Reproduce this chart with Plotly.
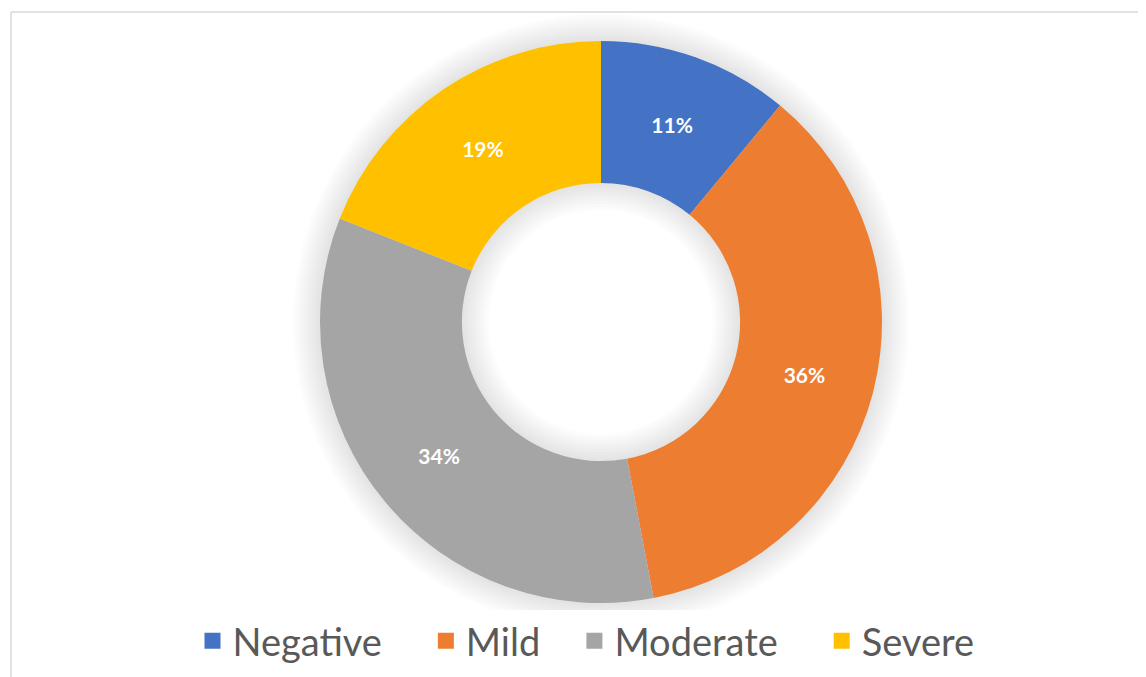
import plotly.graph_objects as go

# ---- data ----
labels = ["Negative", "Mild", "Moderate", "Severe"]
values = [11, 36, 34, 19]
colors = ["#4472C4", "#ED7D31", "#A5A5A5", "#FFC000"]

W, H = 1146, 677
OFF = 8  # page body margin

# donut placement in pixels -> paper coords
cx, cy, R = 601 - OFF, 322 - OFF, 281
HOLE = 0.495
r_in = R * HOLE


def dom(r):
    return dict(x=[(cx - r) / W, (cx + r) / W], y=[1 - (cy + r) / H, 1 - (cy - r) / H])


fig = go.Figure()

# soft blurred shadow around the ring (outer and inner edges)
for g in range(27, 0, -3):
    fig.add_trace(go.Pie(
        values=[1], labels=["shadow"], hole=(r_in - g) / (R + g), domain=dom(R + g),
        marker=dict(colors=["rgba(0,0,0,0.012)"], line=dict(width=0)),
        textinfo="none", hoverinfo="skip", showlegend=False, sort=False,
    ))

fig.add_trace(go.Pie(
    labels=labels,
    values=values,
    hole=HOLE,
    sort=False,
    direction="clockwise",
    rotation=0,
    domain=dom(R),
    marker=dict(colors=colors, line=dict(width=0)),
    texttemplate="%{percent:.0%}",
    textposition="inside",
    insidetextorientation="horizontal",
    textfont=dict(family="Lato", size=21, color="white", weight="bold"),
    showlegend=False,
))

# legend entries with bigger square markers (trailing spaces widen the gaps)
pads = [4, 3, 4, 0]
for lab, col, p in zip(labels, colors, pads):
    fig.add_trace(go.Scatter(
        x=[None], y=[None], mode="markers",
        name=lab + "\u00a0" * p,
        marker=dict(symbol="square", size=16, color=col),
    ))

fig.update_layout(
    width=W, height=H,
    margin=dict(l=0, r=0, t=0, b=0),
    paper_bgcolor="white",
    plot_bgcolor="white",
    xaxis=dict(visible=False),
    yaxis=dict(visible=False),
    legend=dict(
        orientation="h", x=(586 - OFF) / W, xanchor="center", y=1 - (641 - OFF) / H, yanchor="middle",
        font=dict(family="Lato", size=38, color="#595959"),
        itemwidth=30, traceorder="normal",
    ),
    shapes=[
        dict(type="line", xref="paper", yref="paper", x0=(11 - OFF) / W, x1=1,
             y0=1 - (12 - OFF) / H, y1=1 - (12 - OFF) / H, line=dict(color="#D9D9D9", width=1.5)),
        dict(type="line", xref="paper", yref="paper", x0=(11 - OFF) / W, x1=(11 - OFF) / W,
             y0=0, y1=1 - (12 - OFF) / H, line=dict(color="#D9D9D9", width=1.5)),
    ],
)

fig.write_html("out.html")
